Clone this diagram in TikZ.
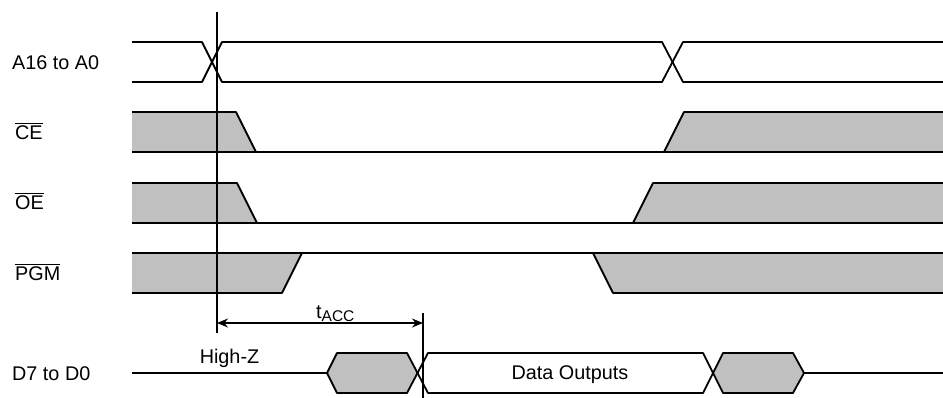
\documentclass[tikz,border=0pt]{standalone}
\usepackage{fontspec}
\setmainfont{Liberation Sans}
\usetikzlibrary{arrows.meta}
\definecolor{sigfill}{RGB}{192,192,192}
\newcommand\ovl[1]{\leavevmode\vbox{\hrule height 1.3pt \kern 2.2pt \hbox{#1}}}
\begin{document}
\begin{tikzpicture}[x=1pt,y=-1pt,
  sig/.style={line width=1.8pt, line join=round},
  shade/.style={fill=sigfill, draw=none},
  lbl/.style={anchor=base west, inner sep=0pt, font=\fontsize{19.8}{22}\selectfont},
  txt/.style={anchor=base, inner sep=0pt, font=\fontsize{19.8}{22}\selectfont},
  marker/.style={line width=1.3pt},
  dim/.style={line width=1.3pt, {Stealth[length=11pt,width=9pt]}-{Stealth[length=11pt,width=9pt]}}]
\useasboundingbox (0,0) rectangle (943,398);
% labels
\node[lbl] (la) at (12,70) {A16 to A0};
\node[lbl] (lce) at (15,140) {\ovl{CE}};
\node[lbl] (loe) at (15,210) {\ovl{OE}};
\node[lbl] (lpgm) at (15,281) {\ovl{PGM}};
\node[lbl] (ld) at (12,380) {D7 to D0};
% address
\draw[sig] (132,42) -- (202,42) -- (222,82) -- (662,82) -- (683,42) -- (943,42);
\draw[sig] (132,82) -- (202,82) -- (222,42) -- (662,42) -- (683,82) -- (943,82);
% CE
\fill[shade] (132,112) -- (236,112) -- (256,152) -- (132,152) -- cycle;
\fill[shade] (664,152) -- (684,112) -- (943,112) -- (943,152) -- cycle;
\draw[sig] (132,112) -- (236,112) -- (256,152);
\draw[sig] (132,152) -- (943,152);
\draw[sig] (664,152) -- (684,112) -- (943,112);
% OE
\fill[shade] (132,183) -- (237,183) -- (257,223) -- (132,223) -- cycle;
\fill[shade] (633,223) -- (653,183) -- (943,183) -- (943,223) -- cycle;
\draw[sig] (132,183) -- (237,183) -- (257,223);
\draw[sig] (132,223) -- (943,223);
\draw[sig] (633,223) -- (653,183) -- (943,183);
% PGM
\fill[shade] (132,253) -- (302,253) -- (282,293) -- (132,293) -- cycle;
\fill[shade] (593,253) -- (943,253) -- (943,293) -- (613,293) -- cycle;
\draw[sig] (132,253) -- (943,253);
\draw[sig] (302,253) -- (282,293) -- (132,293);
\draw[sig] (593,253) -- (613,293) -- (943,293);
% data
\fill[shade] (327,373) -- (337,353) -- (407,353) -- (417.5,373) -- (407,393) -- (337,393) -- cycle;
\fill[shade] (713,373) -- (723,353) -- (793,353) -- (804,373) -- (793,393) -- (723,393) -- cycle;
\draw[sig] (132,373) -- (327,373) -- (337,353) -- (407,353) -- (428,393) -- (703,393) -- (723,353) -- (793,353) -- (804,373) -- (943,373);
\draw[sig] (327,373) -- (337,393) -- (407,393) -- (428,353) -- (703,353) -- (723,393) -- (793,393) -- (804,373);
\node[txt] (hz) at (229.5,363) {High-Z};
\node[txt] (dout) at (570,379) {Data Outputs};
% timing markers
\coordinate (m1top) at (217,12);
\coordinate (m1bot) at (217,333);
\coordinate (m2top) at (423,313);
\coordinate (m2bot) at (423,398);
\draw[marker] (m1top) -- (m1bot);
\draw[marker] (m2top) -- (m2bot);
\coordinate (a1) at (217,323);
\coordinate (a2) at (423,323);
\draw[dim] (a1) -- (a2);
\node[anchor=base west, inner sep=0pt, font=\fontsize{19.8}{22}\selectfont] (tacc) at (316,319) {t\raisebox{-2pt}{\fontsize{15.5}{16}\selectfont ACC}};
\end{tikzpicture}
\end{document}
